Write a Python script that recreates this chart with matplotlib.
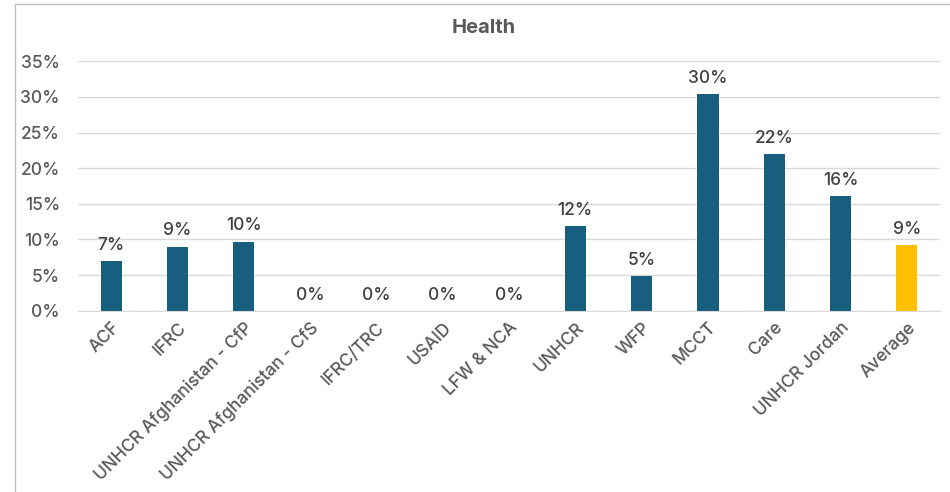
import matplotlib.pyplot as plt
from matplotlib.lines import Line2D

plt.rcParams['font.family'] = ['Inter', 'DejaVu Sans']

categories = ["ACF", "IFRC", "UNHCR Afghanistan - CfP", "UNHCR Afghanistan - CfS",
              "IFRC/TRC", "USAID", "LFW & NCA", "UNHCR", "WFP", "MCCT", "Care",
              "UNHCR Jordan", "Average"]
values = [6.97, 9.0, 9.7, 0, 0, 0, 0, 11.9, 4.87, 30.4, 22.0, 16.1, 9.25]
labels = ["7%", "9%", "10%", "0%", "0%", "0%", "0%", "12%", "5%", "30%", "22%", "16%", "9%"]
yticks = [0, 5, 10, 15, 20, 25, 30, 35]

blue = "#175E7F"
gold = "#FFC000"
text_grey = "#595959"
colors = [blue] * (len(categories) - 1) + [gold]

fig = plt.figure(figsize=(9.5, 4.92), dpi=100)
ax = fig.add_axes([78 / 950, 0.3685, 862 / 950, 0.5069])

x = range(len(categories))
ax.bar(x, values, width=0.32, color=colors, zorder=3)

for xi, v, lab in zip(x, values, labels):
    ax.text(xi, v + 1.0, lab, ha="center", va="bottom", fontsize=12.5,
            color="#404040", fontweight="medium")

ax.set_xlim(-0.5, len(categories) - 0.5)
ax.set_ylim(0, 35)
ax.set_yticks(yticks)
ax.set_yticklabels([f"{t}%" for t in yticks], fontsize=12.5, color=text_grey,
                   fontweight="medium")
ax.set_xticks(list(x))
ax.set_xticklabels(categories, rotation=45, ha="right", rotation_mode="anchor",
                   fontsize=12.5, color=text_grey, fontweight="medium")
ax.tick_params(axis="both", length=0)
ax.tick_params(axis="y", pad=13)
ax.tick_params(axis="x", pad=6)

ax.grid(axis="y", color="#D9D9D9", linewidth=1, zorder=0)
for s in ["top", "right", "left"]:
    ax.spines[s].set_visible(False)
ax.spines["bottom"].set_color("#D9D9D9")
ax.spines["bottom"].set_zorder(4)

fig.text(484 / 950, 1 - 28 / 492, "Health", ha="center", va="center",
         fontsize=14.5, fontweight="bold", color=text_grey)

# chart frame (only left and top edges are visible in the crop)
fig.add_artist(Line2D([14.5 / 950, 14.5 / 950], [0, 1 - 4.3 / 492],
                      transform=fig.transFigure, color="#BFBFBF", linewidth=1))
fig.add_artist(Line2D([14.5 / 950, 1], [1 - 4.3 / 492, 1 - 4.3 / 492],
                      transform=fig.transFigure, color="#BFBFBF", linewidth=1))

fig.savefig("out.png", dpi=100)
